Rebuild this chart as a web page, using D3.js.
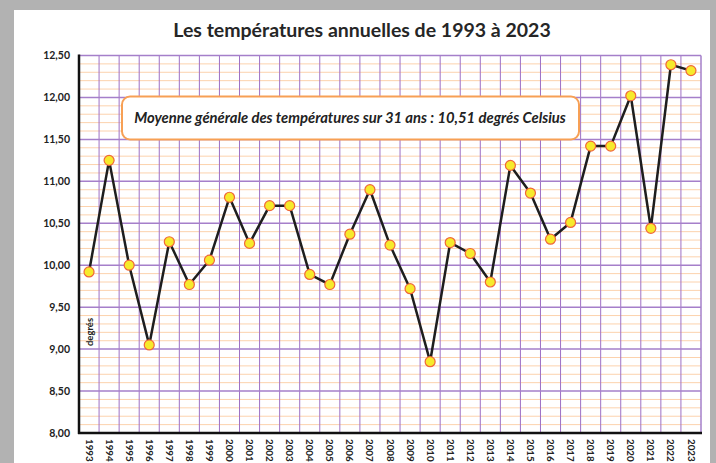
<!DOCTYPE html>
<html>
<head>
<meta charset="utf-8">
<script src="https://cdn.jsdelivr.net/npm/d3@7"></script>
<style>
  html, body { margin: 0; padding: 0; background: #b2b2b2; }
  svg { display: block; }
</style>
</head>
<body>
<svg id="chart" width="716" height="463"></svg>
<script>
// data
const years = d3.range(1993, 2024).map(String);
const temps = [
  9.92, 11.25, 10.00, 9.05, 10.28, 9.77, 10.06, 10.81, 10.26, 10.71,
  10.71, 9.89, 9.77, 10.37, 10.90, 10.24, 9.72, 8.85, 10.27, 10.14,
  9.80, 11.19, 10.86, 10.31, 10.51, 11.42, 11.42, 12.02, 10.44, 12.39,
  12.32,
];
const yTicks = [8.0, 8.5, 9.0, 9.5, 10.0, 10.5, 11.0, 11.5, 12.0, 12.5];
const titleText = 'Les températures annuelles de 1993 à 2023';
const noteText = 'Moyenne générale des températures sur 31 ans : 10,51 degrés Celsius';
const unitText = 'degrés';

const plot = { left: 79, right: 701, top: 55.5, bottom: 433 };
const font = 'Lato, "Open Sans", sans-serif';

const svg = d3.select('#chart');

// white sheet on grey background
svg.append('rect')
  .attr('x', 14).attr('y', 10)
  .attr('width', 696).attr('height', 460)
  .attr('fill', '#fff');

const x = d3.scaleBand()
  .domain(years)
  .range([plot.left, plot.right]);

const y = d3.scaleLinear()
  .domain([8, 12.5])
  .range([plot.bottom, plot.top]);

const fmt = (v) => d3.format('.2f')(v).replace('.', ',');

// minor horizontal grid (every 0.1)
const minor = d3.range(81, 125).map((d) => d / 10).filter((v) => Math.round(v * 10) % 5 !== 0);
svg.append('g')
  .selectAll('line')
  .data(minor)
  .join('line')
    .attr('x1', plot.left).attr('x2', plot.right)
    .attr('y1', (d) => y(d)).attr('y2', (d) => y(d))
    .attr('stroke', '#fcd2ad')
    .attr('stroke-width', 1);

// vertical grid at category boundaries
svg.append('g')
  .selectAll('line')
  .data(years.slice(1))
  .join('line')
    .attr('x1', (d) => x(d)).attr('x2', (d) => x(d))
    .attr('y1', plot.top).attr('y2', plot.bottom)
    .attr('stroke', '#9e70c4')
    .attr('stroke-width', 1);

// major horizontal grid
svg.append('g')
  .selectAll('line')
  .data(yTicks.slice(1))
  .join('line')
    .attr('x1', plot.left).attr('x2', plot.right)
    .attr('y1', (d) => y(d)).attr('y2', (d) => y(d))
    .attr('stroke', '#a57fca')
    .attr('stroke-width', 1.5);

// right border
svg.append('line')
  .attr('x1', plot.right).attr('x2', plot.right)
  .attr('y1', plot.top).attr('y2', plot.bottom)
  .attr('stroke', '#a57fca')
  .attr('stroke-width', 1.5);

// axes lines
svg.append('line')
  .attr('x1', plot.left).attr('x2', plot.left)
  .attr('y1', plot.top - 1).attr('y2', plot.bottom + 1)
  .attr('stroke', '#111')
  .attr('stroke-width', 2.5);
svg.append('line')
  .attr('x1', plot.left - 1).attr('x2', plot.right + 1)
  .attr('y1', plot.bottom).attr('y2', plot.bottom)
  .attr('stroke', '#111')
  .attr('stroke-width', 2.5);

// y tick labels
svg.append('g')
  .selectAll('text')
  .data(yTicks)
  .join('text')
    .attr('x', 70)
    .attr('y', (d) => y(d))
    .attr('dy', '0.35em')
    .attr('text-anchor', 'end')
    .attr('font-family', font)
    .attr('font-weight', 'bold')
    .attr('font-size', 10.5)
    .attr('fill', '#222')
    .text(fmt);

// x tick labels, rotated
svg.append('g')
  .selectAll('text')
  .data(years)
  .join('text')
    .attr('transform', (d) => `translate(${x(d) + x.bandwidth() / 2},439) rotate(90)`)
    .attr('dy', '0.35em')
    .attr('text-anchor', 'start')
    .attr('font-family', font)
    .attr('font-weight', 'bold')
    .attr('font-size', 9.8)
    .attr('fill', '#222')
    .text((d) => d);

// unit label
svg.append('text')
  .attr('transform', 'translate(90,332) rotate(-90)')
  .attr('dy', '0.35em')
  .attr('text-anchor', 'middle')
  .attr('font-family', font)
  .attr('font-weight', 'bold')
  .attr('font-size', 9.5)
  .attr('fill', '#222')
  .text(unitText);

// title
svg.append('text')
  .attr('x', 362)
  .attr('y', 37)
  .attr('text-anchor', 'middle')
  .attr('font-family', font)
  .attr('font-weight', 'bold')
  .attr('font-size', 19.5)
  .attr('fill', '#262626')
  .text(titleText);

// note box
svg.append('rect')
  .attr('x', 122).attr('y', 96.5)
  .attr('width', 457).attr('height', 43)
  .attr('rx', 8)
  .attr('fill', '#fff')
  .attr('stroke', '#f7a055')
  .attr('stroke-width', 2);
svg.append('text')
  .attr('x', 350)
  .attr('y', 118)
  .attr('dy', '0.35em')
  .attr('text-anchor', 'middle')
  .attr('font-family', font)
  .attr('font-weight', 'bold')
  .attr('font-style', 'italic')
  .attr('font-size', 14.8)
  .attr('fill', '#222')
  .text(noteText);

// series line
const cx = (d, i) => x(years[i]) + x.bandwidth() / 2;
svg.append('path')
  .datum(temps)
  .attr('fill', 'none')
  .attr('stroke', '#1e1e1e')
  .attr('stroke-width', 2.5)
  .attr('stroke-linejoin', 'round')
  .attr('d', d3.line().x(cx).y((d) => y(d)));

// markers
svg.append('g')
  .selectAll('circle')
  .data(temps)
  .join('circle')
    .attr('cx', cx)
    .attr('cy', (d) => y(d))
    .attr('r', 5)
    .attr('fill', '#f6ea2c')
    .attr('stroke', '#f0663a')
    .attr('stroke-width', 1.2);
</script>
</body>
</html>
